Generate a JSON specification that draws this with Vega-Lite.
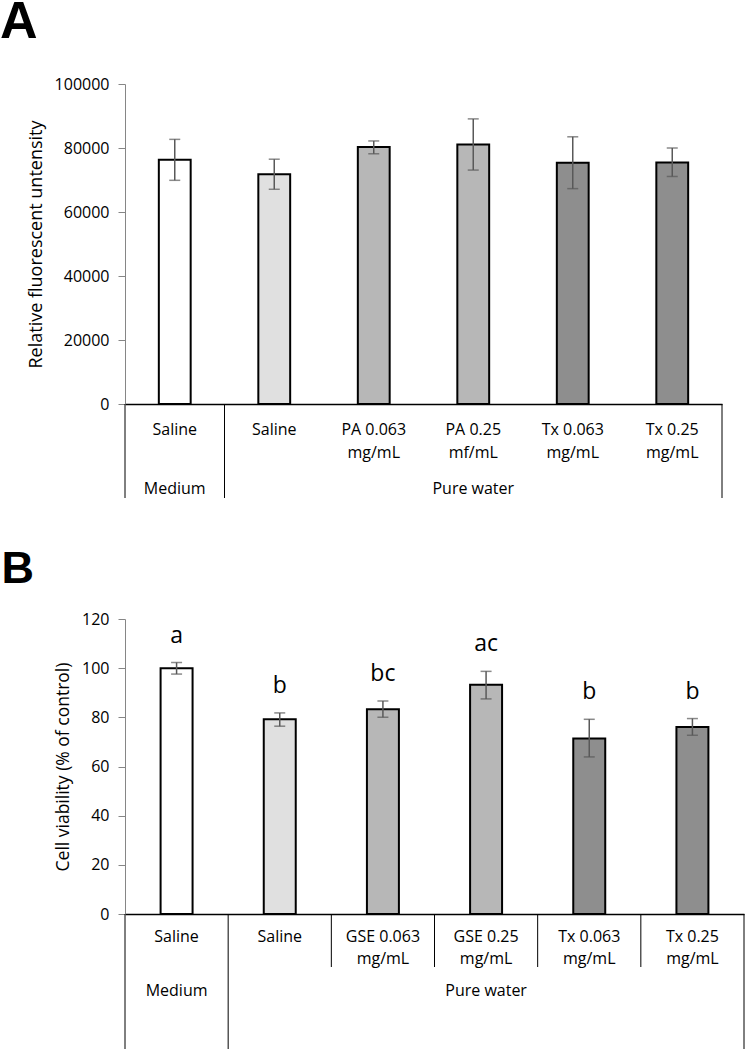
{
  "$schema": "https://vega.github.io/schema/vega-lite/v6.json",
  "padding": {"top": -4, "left": 0, "right": 0, "bottom": 0},
  "spacing": 48,
  "config": {
    "font": "Open Sans",
    "view": {"stroke": null},
    "axis": {"labelFont": "Open Sans", "titleFont": "Open Sans", "labelColor": "#000", "titleColor": "#000", "titleFontWeight": "normal", "grid": false},
    "title": {"font": "Liberation Sans", "fontWeight": "bold", "color": "#000", "anchor": "start", "frame": "bounds"}
  },
  "datasets": {
    "fluor": [
      {"condition": "Medium / Saline", "label": "Saline", "shade": "control", "mean": 76300, "lo": 69900, "hi": 82700},
      {"condition": "Pure water / Saline", "label": "Saline", "shade": "vehicle", "mean": 71800, "lo": 67100, "hi": 76500},
      {"condition": "Pure water / PA 0.063 mg/mL", "label": "PA 0.063\nmg/mL", "shade": "extract", "mean": 80300, "lo": 78200, "hi": 82200},
      {"condition": "Pure water / PA 0.25 mf/mL", "label": "PA 0.25\nmf/mL", "shade": "extract", "mean": 81100, "lo": 73100, "hi": 89100},
      {"condition": "Pure water / Tx 0.063 mg/mL", "label": "Tx 0.063\nmg/mL", "shade": "positive", "mean": 75400, "lo": 67300, "hi": 83500},
      {"condition": "Pure water / Tx 0.25 mg/mL", "label": "Tx 0.25\nmg/mL", "shade": "positive", "mean": 75500, "lo": 71100, "hi": 80000}
    ],
    "fluorLines": [
      {"condition": "Medium / Saline", "edge": "left", "level": "outer"},
      {"condition": "Pure water / Saline", "edge": "left", "level": "outer"},
      {"condition": "Pure water / Tx 0.25 mg/mL", "edge": "right", "level": "outer"}
    ],
    "fluorGroups": [
      {"group": "Medium", "anchor": "Medium / Saline"},
      {"group": "Pure water", "anchor": "Pure water / PA 0.25 mf/mL"}
    ],
    "viab": [
      {"condition": "Medium / Saline", "label": "Saline", "shade": "control", "mean": 100, "lo": 97.6, "hi": 102.3, "letter": "a"},
      {"condition": "Pure water / Saline", "label": "Saline", "shade": "vehicle", "mean": 79.2, "lo": 76.4, "hi": 81.8, "letter": "b"},
      {"condition": "Pure water / GSE 0.063 mg/mL", "label": "GSE 0.063\nmg/mL", "shade": "extract", "mean": 83.3, "lo": 80.0, "hi": 86.6, "letter": "bc"},
      {"condition": "Pure water / GSE 0.25 mg/mL", "label": "GSE 0.25\nmg/mL", "shade": "extract", "mean": 93.3, "lo": 87.5, "hi": 98.7, "letter": "ac"},
      {"condition": "Pure water / Tx 0.063 mg/mL", "label": "Tx 0.063\nmg/mL", "shade": "positive", "mean": 71.4, "lo": 63.9, "hi": 79.2, "letter": "b"},
      {"condition": "Pure water / Tx 0.25 mg/mL", "label": "Tx 0.25\nmg/mL", "shade": "positive", "mean": 76.1, "lo": 72.7, "hi": 79.5, "letter": "b"}
    ],
    "viabLines": [
      {"condition": "Medium / Saline", "edge": "left", "level": "outer"},
      {"condition": "Pure water / Saline", "edge": "left", "level": "outer"},
      {"condition": "Pure water / GSE 0.063 mg/mL", "edge": "left", "level": "inner"},
      {"condition": "Pure water / GSE 0.25 mg/mL", "edge": "left", "level": "inner"},
      {"condition": "Pure water / Tx 0.063 mg/mL", "edge": "left", "level": "inner"},
      {"condition": "Pure water / Tx 0.25 mg/mL", "edge": "left", "level": "inner"},
      {"condition": "Pure water / Tx 0.25 mg/mL", "edge": "right", "level": "outer"}
    ],
    "viabGroups": [
      {"group": "Medium", "anchor": "Medium / Saline"},
      {"group": "Pure water", "anchor": "Pure water / GSE 0.25 mg/mL"}
    ]
  },
  "vconcat": [
    {
      "title": {"text": "A", "fontSize": 52, "dx": -27, "offset": 27},
      "bounds": "flush",
      "spacing": 0,
      "resolve": {"scale": {"x": "independent"}},
      "vconcat": [
        {
          "width": 597,
          "height": 320,
          "data": {"name": "fluor"},
          "layer": [
            {
              "mark": {"type": "bar", "stroke": "#000", "strokeWidth": 2},
              "encoding": {
                "x": {"field": "condition", "type": "nominal", "scale": {"domain": ["Medium / Saline", "Pure water / Saline", "Pure water / PA 0.063 mg/mL", "Pure water / PA 0.25 mf/mL", "Pure water / Tx 0.063 mg/mL", "Pure water / Tx 0.25 mg/mL"], "paddingInner": 0.68, "paddingOuter": 0.34}, "axis": {"labels": false, "ticks": false, "title": null, "domainColor": "#000", "domainWidth": 1.3}},
                "y": {"field": "mean", "type": "quantitative", "title": "Relative fluorescent untensity", "scale": {"domain": [0, 100000], "nice": false}, "axis": {"values": [0, 10000, 20000, 30000, 40000, 50000, 60000, 70000, 80000, 90000, 100000], "format": "d", "labelOverlap": false, "domainColor": "#868686", "tickColor": "#868686", "tickSize": 7, "labelPadding": 9, "labelFontSize": 16, "titleFontSize": 18, "titlePadding": 9}},
                "fill": {"field": "shade", "type": "nominal", "scale": {"domain": ["control", "vehicle", "extract", "positive"], "range": ["#ffffff", "#e0e0e0", "#b7b7b7", "#8e8e8e"]}, "legend": null}
              }
            },
            {
              "mark": {"type": "errorbar", "ticks": true, "size": 11, "thickness": 1.5, "color": "#595959"},
              "encoding": {
                "x": {"field": "condition", "type": "nominal"},
                "y": {"field": "lo", "type": "quantitative", "title": "Relative fluorescent untensity"},
                "y2": {"field": "hi"}
              }
            }
          ]
        },
        {
          "width": 597,
          "height": 53,
          "layer": [
            {
              "data": {"name": "fluorLines"},
              "transform": [{"filter": "datum.edge === 'left'"}],
              "mark": {"type": "rule", "color": "#000", "strokeWidth": 1},
              "encoding": {"x": {"field": "condition", "type": "nominal", "bandPosition": 0, "scale": {"domain": ["Medium / Saline", "Pure water / Saline", "Pure water / PA 0.063 mg/mL", "Pure water / PA 0.25 mf/mL", "Pure water / Tx 0.063 mg/mL", "Pure water / Tx 0.25 mg/mL"], "paddingInner": 0, "paddingOuter": 0}, "axis": null}}
            },
            {
              "data": {"name": "fluorLines"},
              "transform": [{"filter": "datum.edge === 'right'"}],
              "mark": {"type": "rule", "color": "#000", "strokeWidth": 1},
              "encoding": {"x": {"field": "condition", "type": "nominal", "bandPosition": 1}}
            },
            {
              "data": {"name": "fluor"},
              "mark": {"type": "text", "baseline": "top", "lineBreak": "\n", "fontSize": 16, "lineHeight": 23, "dy": -8.5, "color": "#000"},
              "encoding": {"x": {"field": "condition", "type": "nominal"}, "text": {"field": "label"}}
            }
          ]
        },
        {
          "width": 597,
          "height": 41,
          "layer": [
            {
              "data": {"name": "fluorLines"},
              "transform": [{"filter": "datum.edge === 'left' && datum.level === 'outer'"}],
              "mark": {"type": "rule", "color": "#000", "strokeWidth": 1},
              "encoding": {"x": {"field": "condition", "type": "nominal", "bandPosition": 0, "scale": {"domain": ["Medium / Saline", "Pure water / Saline", "Pure water / PA 0.063 mg/mL", "Pure water / PA 0.25 mf/mL", "Pure water / Tx 0.063 mg/mL", "Pure water / Tx 0.25 mg/mL"], "paddingInner": 0, "paddingOuter": 0}, "axis": null}}
            },
            {
              "data": {"name": "fluorLines"},
              "transform": [{"filter": "datum.edge === 'right' && datum.level === 'outer'"}],
              "mark": {"type": "rule", "color": "#000", "strokeWidth": 1},
              "encoding": {"x": {"field": "condition", "type": "nominal", "bandPosition": 1}}
            },
            {
              "data": {"name": "fluorGroups"},
              "mark": {"type": "text", "baseline": "middle", "fontSize": 16, "dy": 11, "color": "#000"},
              "encoding": {"x": {"field": "anchor", "type": "nominal"}, "text": {"field": "group"}}
            }
          ]
        }
      ]
    },
    {
      "title": {"text": "B", "fontSize": 45, "dx": -53, "offset": 19},
      "bounds": "flush",
      "spacing": 0,
      "resolve": {"scale": {"x": "independent"}},
      "vconcat": [
        {
          "width": 619,
          "height": 295,
          "data": {"name": "viab"},
          "layer": [
            {
              "mark": {"type": "bar", "stroke": "#000", "strokeWidth": 2},
              "encoding": {
                "x": {"field": "condition", "type": "nominal", "scale": {"domain": ["Medium / Saline", "Pure water / Saline", "Pure water / GSE 0.063 mg/mL", "Pure water / GSE 0.25 mg/mL", "Pure water / Tx 0.063 mg/mL", "Pure water / Tx 0.25 mg/mL"], "paddingInner": 0.69, "paddingOuter": 0.345}, "axis": {"labels": false, "ticks": false, "title": null, "domainColor": "#000", "domainWidth": 1.3}},
                "y": {"field": "mean", "type": "quantitative", "title": "Cell viability (% of control)", "scale": {"domain": [0, 120], "nice": false}, "axis": {"values": [0, 20, 40, 60, 80, 100, 120], "format": "d", "labelOverlap": false, "domainColor": "#868686", "tickColor": "#868686", "tickSize": 7, "labelPadding": 9, "labelFontSize": 16, "titleFontSize": 17.5, "titlePadding": 9}},
                "fill": {"field": "shade", "type": "nominal", "scale": {"domain": ["control", "vehicle", "extract", "positive"], "range": ["#ffffff", "#e0e0e0", "#b7b7b7", "#8e8e8e"]}, "legend": null}
              }
            },
            {
              "mark": {"type": "errorbar", "ticks": true, "size": 11, "thickness": 1.5, "color": "#595959"},
              "encoding": {
                "x": {"field": "condition", "type": "nominal"},
                "y": {"field": "lo", "type": "quantitative", "title": "Cell viability (% of control)"},
                "y2": {"field": "hi"}
              }
            },
            {
              "mark": {"type": "text", "baseline": "alphabetic", "dy": -20, "fontSize": 23, "color": "#000"},
              "encoding": {
                "x": {"field": "condition", "type": "nominal"},
                "y": {"field": "hi", "type": "quantitative", "title": "Cell viability (% of control)"},
                "text": {"field": "letter"}
              }
            }
          ]
        },
        {
          "width": 619,
          "height": 53,
          "layer": [
            {
              "data": {"name": "viabLines"},
              "transform": [{"filter": "datum.edge === 'left'"}],
              "mark": {"type": "rule", "color": "#000", "strokeWidth": 1},
              "encoding": {"x": {"field": "condition", "type": "nominal", "bandPosition": 0, "scale": {"domain": ["Medium / Saline", "Pure water / Saline", "Pure water / GSE 0.063 mg/mL", "Pure water / GSE 0.25 mg/mL", "Pure water / Tx 0.063 mg/mL", "Pure water / Tx 0.25 mg/mL"], "paddingInner": 0, "paddingOuter": 0}, "axis": null}}
            },
            {
              "data": {"name": "viabLines"},
              "transform": [{"filter": "datum.edge === 'right'"}],
              "mark": {"type": "rule", "color": "#000", "strokeWidth": 1},
              "encoding": {"x": {"field": "condition", "type": "nominal", "bandPosition": 1}}
            },
            {
              "data": {"name": "viab"},
              "mark": {"type": "text", "baseline": "top", "lineBreak": "\n", "fontSize": 16, "lineHeight": 21.6, "dy": -11.5, "color": "#000"},
              "encoding": {"x": {"field": "condition", "type": "nominal"}, "text": {"field": "label"}}
            }
          ]
        },
        {
          "width": 619,
          "height": 82,
          "layer": [
            {
              "data": {"name": "viabLines"},
              "transform": [{"filter": "datum.edge === 'left' && datum.level === 'outer'"}],
              "mark": {"type": "rule", "color": "#000", "strokeWidth": 1},
              "encoding": {"x": {"field": "condition", "type": "nominal", "bandPosition": 0, "scale": {"domain": ["Medium / Saline", "Pure water / Saline", "Pure water / GSE 0.063 mg/mL", "Pure water / GSE 0.25 mg/mL", "Pure water / Tx 0.063 mg/mL", "Pure water / Tx 0.25 mg/mL"], "paddingInner": 0, "paddingOuter": 0}, "axis": null}}
            },
            {
              "data": {"name": "viabLines"},
              "transform": [{"filter": "datum.edge === 'right' && datum.level === 'outer'"}],
              "mark": {"type": "rule", "color": "#000", "strokeWidth": 1},
              "encoding": {"x": {"field": "condition", "type": "nominal", "bandPosition": 1}}
            },
            {
              "data": {"name": "viabGroups"},
              "mark": {"type": "text", "baseline": "middle", "fontSize": 16, "dy": -17, "color": "#000"},
              "encoding": {"x": {"field": "anchor", "type": "nominal"}, "text": {"field": "group"}}
            }
          ]
        }
      ]
    }
  ]
}
